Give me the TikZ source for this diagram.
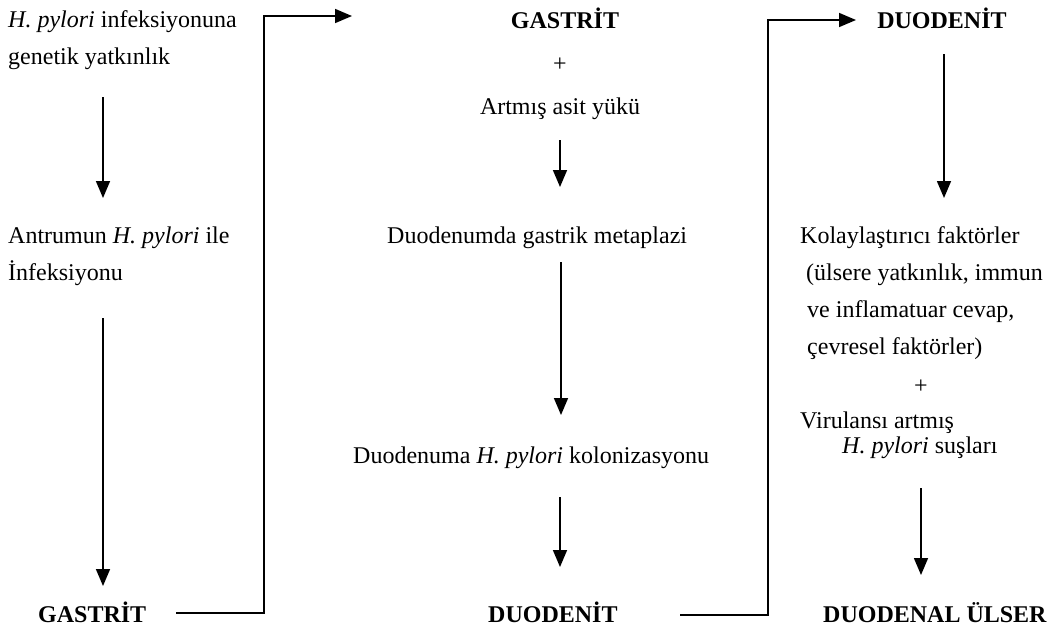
\documentclass[tikz,border=0pt]{standalone}
\usepackage{fontspec}
\setmainfont{Liberation Serif}
\usetikzlibrary{arrows.meta}
\begin{document}
\begin{tikzpicture}[x=1pt,y=-1pt,
  txt/.style={inner sep=0pt,font=\fontsize{24}{28}\selectfont},
  lt/.style={txt,anchor=base west},
  ct/.style={txt,anchor=base},
  bt/.style={txt,anchor=base west,font=\fontsize{24}{28}\selectfont\bfseries},
  bc/.style={txt,anchor=base,font=\fontsize{24}{28}\selectfont\bfseries},
  arr/.style={line width=1.6pt,-{Triangle[length=17pt,width=14pt]}}]
\useasboundingbox (0,0) rectangle (1050,630);
% left column
\node[lt] (l1) at (8,27) {\textit{H. pylori} infeksiyonuna};
\node[lt] (l2) at (8,64) {genetik yatkınlık};
\coordinate (a1s) at (103,97);
\coordinate (a1e) at (103,198);
\node[lt] (l3) at (8,243) {Antrumun \textit{H. pylori} ile};
\node[lt] (l4) at (8,280) {İnfeksiyonu};
\coordinate (a2s) at (103,318);
\coordinate (a2e) at (103,586);
\node[bt] (g1) at (38,622) {GASTRİT};
% middle column
\node[bc] (g2) at (565,28) {GASTRİT};
\node[txt] (p1) at (560,65) {+};
\node[ct] (m1) at (560,114) {Artmış asit yükü};
\coordinate (a3s) at (560,140);
\coordinate (a3e) at (560,187);
\node[lt] (m2) at (387,243) {Duodenumda gastrik metaplazi};
\coordinate (a4s) at (561,262);
\coordinate (a4e) at (561,415);
\node[lt] (m3) at (353,463) {Duodenuma \textit{H. pylori} kolonizasyonu};
\coordinate (a5s) at (560,497);
\coordinate (a5e) at (560,567);
\node[bt] (d1) at (488,622) {DUODENİT};
% right column
\node[bc] (d2) at (942,28) {DUODENİT};
\coordinate (a6s) at (944,54);
\coordinate (a6e) at (944,198);
\node[lt] (r1) at (800,243) {Kolaylaştırıcı faktörler};
\node[lt] (r2) at (806,280) {(ülsere yatkınlık, immun};
\node[lt] (r3) at (807,317) {ve inflamatuar cevap,};
\node[lt] (r4) at (807,354) {çevresel faktörler)};
\node[txt] (p2) at (921,387) {+};
\node[lt] (r5) at (800,428) {Virulansı artmış};
\node[lt] (r6) at (842,453) {\textit{H. pylori} suşları};
\coordinate (a7s) at (921,488);
\coordinate (a7e) at (921,575);
\node[bt] (u1) at (823,622) {DUODENAL ÜLSER};
% arrows
\draw[arr] (a1s) -- (a1e);
\draw[arr] (a2s) -- (a2e);
\draw[arr] (a3s) -- (a3e);
\draw[arr] (a4s) -- (a4e);
\draw[arr] (a5s) -- (a5e);
\draw[arr] (a6s) -- (a6e);
\draw[arr] (a7s) -- (a7e);
% connectors
\coordinate (c1a) at (176,613);
\coordinate (c1b) at (264,613);
\coordinate (c1c) at (264,16);
\coordinate (c1d) at (352,16);
\draw[arr] (c1a) -- (c1b) -- (c1c) -- (c1d);
\coordinate (c2a) at (680,615);
\coordinate (c2b) at (768,615);
\coordinate (c2c) at (768,20);
\coordinate (c2d) at (856,20);
\draw[arr] (c2a) -- (c2b) -- (c2c) -- (c2d);
\end{tikzpicture}
\end{document}
